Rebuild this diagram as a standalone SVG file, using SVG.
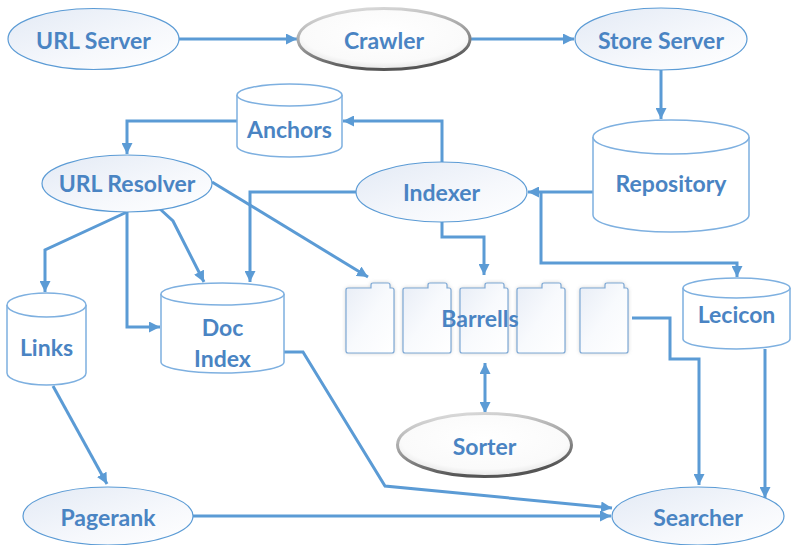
<svg xmlns="http://www.w3.org/2000/svg" xmlns:xlink="http://www.w3.org/1999/xlink" width="794" height="545" viewBox="0 0 794 545">
  <defs>
    <style>
      .lbl { font-family: Lato, "Open Sans", "Liberation Sans", sans-serif; font-weight: bold; font-size: 23px; fill: #4A84C3; text-anchor: middle; dominant-baseline: central; }
      .oval { fill: url(#ovalFill); stroke: #5B9BD5; stroke-width: 1.2; }
      .bevel { fill: url(#bevelFill); stroke: url(#bevelEdge); stroke-width: 3; }
      .cyl { fill: #FFFFFF; stroke: #7EB0E0; stroke-width: 1.5; }
      .edge { fill: none; stroke: #5B9BD5; stroke-width: 3; stroke-linejoin: miter; }
      .barrel { fill: url(#barrelFill); stroke: #7EA9D6; stroke-width: 1.2; }
    </style>
    <linearGradient id="ovalFill" x1="0" y1="0" x2="1" y2="1">
      <stop offset="0" stop-color="#E3EAF5"/>
      <stop offset="0.6" stop-color="#F6F8FC"/>
      <stop offset="1" stop-color="#FFFFFF"/>
    </linearGradient>
    <radialGradient id="bevelFill" cx="0.5" cy="0.4" r="0.6">
      <stop offset="0" stop-color="#FFFFFF"/>
      <stop offset="0.8" stop-color="#FAFAFA"/>
      <stop offset="1" stop-color="#E6E6E6"/>
    </radialGradient>
    <linearGradient id="bevelEdge" x1="0" y1="0" x2="0.3" y2="1">
      <stop offset="0" stop-color="#E4E4E4"/>
      <stop offset="0.5" stop-color="#A8A8A8"/>
      <stop offset="1" stop-color="#555555"/>
    </linearGradient>
    <linearGradient id="barrelFill" x1="0" y1="0" x2="1" y2="1">
      <stop offset="0" stop-color="#E8EDF6"/>
      <stop offset="0.5" stop-color="#F8FAFD"/>
      <stop offset="1" stop-color="#FFFFFF"/>
    </linearGradient>
    <filter id="glow" x="-30%" y="-30%" width="160%" height="160%">
      <feGaussianBlur stdDeviation="2"/>
    </filter>
    <marker id="arr" viewBox="0 0 10 10" refX="10" refY="5" markerWidth="11" markerHeight="11" markerUnits="userSpaceOnUse" orient="auto-start-reverse">
      <path d="M0,0 L10,5 L0,10 Z" fill="#5B9BD5"/>
    </marker>
    <!-- folder-like barrel page -->
    <path id="page" d="M2,5 H25 V2 Q25,0 27,0 H42 Q44,0 44,2 V5 H46 Q48,5 48,7 V68 Q48,70 46,70 H2 Q0,70 0,68 V7 Q0,5 2,5 Z"/>
  </defs>

  <!-- connectors -->
  <g id="connectors">
    <path class="edge" d="M179,39 H297" marker-end="url(#arr)"/>
    <path class="edge" d="M471,39 H574" marker-end="url(#arr)"/>
    <path class="edge" d="M661,70 V119" marker-end="url(#arr)"/>
    <path class="edge" d="M593,192 H528" marker-end="url(#arr)"/>
    <path class="edge" d="M541,192 V263 H737 V277" marker-end="url(#arr)"/>
    <path class="edge" d="M442,162 V121 H343" marker-end="url(#arr)"/>
    <path class="edge" d="M237,121 H127 V154" marker-end="url(#arr)"/>
    <path class="edge" d="M356,192 H250 V282" marker-end="url(#arr)"/>
    <path class="edge" d="M442,222 V237 H484 V275" marker-end="url(#arr)"/>
    <path class="edge" d="M212,182 L368,277" marker-end="url(#arr)"/>
    <path class="edge" d="M127,212 L45,250 V292" marker-end="url(#arr)"/>
    <path class="edge" d="M127,212 V327 H160" marker-end="url(#arr)"/>
    <path class="edge" d="M160,209 L173,221 L204,282" marker-end="url(#arr)"/>
    <path class="edge" d="M284,352 H303 L385,486 L612,508" marker-end="url(#arr)"/>
    <path class="edge" d="M53,386 L107,484" marker-end="url(#arr)"/>
    <path class="edge" d="M193,516 H611" marker-end="url(#arr)"/>
    <path class="edge" d="M485,363 V413" marker-start="url(#arr)" marker-end="url(#arr)"/>
    <path class="edge" d="M632,318 H670 V359 H699 V485" marker-end="url(#arr)"/>
    <path class="edge" d="M765,349 V498" marker-end="url(#arr)"/>
  </g>

  <g id="url-server">
    <ellipse class="oval" cx="93.5" cy="39" rx="85.5" ry="30.5"/>
    <text class="lbl" x="93.5" y="40">URL Server</text>
  </g>

  <g id="crawler">
    <ellipse class="bevel" cx="384" cy="39" rx="86" ry="30.5"/>
    <text class="lbl" x="384" y="40">Crawler</text>
  </g>

  <g id="store-server">
    <ellipse class="oval" cx="661" cy="39" rx="86" ry="31"/>
    <text class="lbl" x="661" y="40">Store Server</text>
  </g>

  <g id="anchors">
    <path class="cyl" d="M237,95 V146 A52.5,11 0 0 0 342,146 V95"/>
    <ellipse class="cyl" cx="289.5" cy="95" rx="52.5" ry="11"/>
    <text class="lbl" x="289.5" y="129">Anchors</text>
  </g>

  <g id="repository">
    <path class="cyl" d="M593,137 V215 A78,17 0 0 0 749,215 V137"/>
    <ellipse class="cyl" cx="671" cy="137" rx="78" ry="17"/>
    <text class="lbl" x="671" y="183">Repository</text>
  </g>

  <g id="url-resolver">
    <ellipse class="oval" cx="127" cy="183.5" rx="85" ry="28.5"/>
    <text class="lbl" x="127" y="183">URL Resolver</text>
  </g>

  <g id="indexer">
    <ellipse class="oval" cx="441.5" cy="192" rx="85.5" ry="30"/>
    <text class="lbl" x="441.5" y="192">Indexer</text>
  </g>

  <g id="links">
    <path class="cyl" d="M7,305 V373 A39.5,12 0 0 0 86,373 V305"/>
    <ellipse class="cyl" cx="46.5" cy="305" rx="39.5" ry="12"/>
    <text class="lbl" x="46.5" y="347">Links</text>
  </g>

  <g id="doc-index">
    <path class="cyl" d="M161,294 V362 A61.5,11 0 0 0 284,362 V294"/>
    <ellipse class="cyl" cx="222.5" cy="294" rx="61.5" ry="11"/>
    <text class="lbl" x="222.5" y="327">Doc</text>
    <text class="lbl" x="222.5" y="358">Index</text>
  </g>

  <g id="barrells">
    <g filter="url(#glow)" fill="#9A9A9A" opacity="0.55">
      <use xlink:href="#page" x="346" y="283"/>
      <use xlink:href="#page" x="403" y="283"/>
      <use xlink:href="#page" x="460" y="283"/>
      <use xlink:href="#page" x="517" y="283"/>
      <use xlink:href="#page" x="580" y="283"/>
    </g>
    <use class="barrel" xlink:href="#page" x="346" y="283"/>
    <use class="barrel" xlink:href="#page" x="403" y="283"/>
    <use class="barrel" xlink:href="#page" x="460" y="283"/>
    <use class="barrel" xlink:href="#page" x="517" y="283"/>
    <use class="barrel" xlink:href="#page" x="580" y="283"/>
    <text class="lbl" x="480" y="318">Barrells</text>
  </g>

  <g id="lecicon">
    <path class="cyl" d="M683,288 V339 A53.5,10 0 0 0 790,339 V288"/>
    <ellipse class="cyl" cx="736.5" cy="288" rx="53.5" ry="10"/>
    <text class="lbl" x="736.5" y="314">Lecicon</text>
  </g>

  <g id="sorter">
    <ellipse class="bevel" cx="484.5" cy="445" rx="87" ry="31.5"/>
    <text class="lbl" x="484.5" y="446">Sorter</text>
  </g>

  <g id="pagerank">
    <ellipse class="oval" cx="108" cy="516" rx="85" ry="29"/>
    <text class="lbl" x="108" y="517">Pagerank</text>
  </g>

  <g id="searcher">
    <ellipse class="oval" cx="698" cy="516" rx="86" ry="29"/>
    <text class="lbl" x="698" y="517">Searcher</text>
  </g>
</svg>
